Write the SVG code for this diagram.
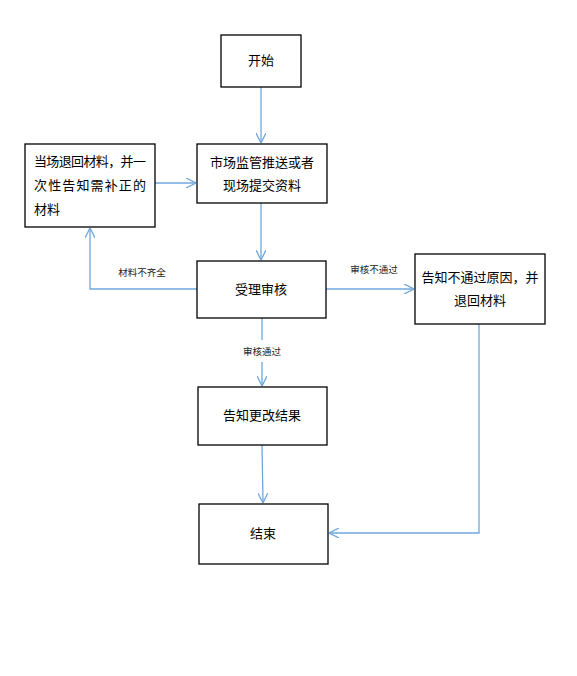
<svg xmlns="http://www.w3.org/2000/svg" width="577" height="676" viewBox="0 0 577 676">
<defs>
<style>
.box{fill:#fff;stroke:#000;stroke-width:1.3}
.t{font-family:"Noto Sans CJK SC","Liberation Sans",sans-serif;font-size:13px;fill:#000}
.m{text-anchor:middle}
.lbl{font-family:"Noto Sans CJK SC","Liberation Sans",sans-serif;font-size:9.5px;fill:#222;text-anchor:middle}
.c{fill:none;stroke:#6FA8DC;stroke-width:1.3}
</style>
<marker id="ah" viewBox="0 0 10 10" refX="10" refY="5" markerWidth="10" markerHeight="10" markerUnits="userSpaceOnUse" orient="auto">
<path d="M0,0 L10,5 L0,10" fill="none" stroke="#6FA8DC" stroke-width="1.3"/>
</marker>
</defs>
<rect width="577" height="676" fill="#fff"/>
<g id="connectors">
<path class="c" d="M261,87 V143" marker-end="url(#ah)"/>
<path class="c" d="M155,183 H196" marker-end="url(#ah)"/>
<path class="c" d="M261,203 V260" marker-end="url(#ah)"/>
<path class="c" d="M197,289 H90 V228" marker-end="url(#ah)"/>
<path class="c" d="M326,289 H414" marker-end="url(#ah)"/>
<path class="c" d="M262,318 V340"/>
<path class="c" d="M262,362 V386" marker-end="url(#ah)"/>
<path class="c" d="M262,445 L263,503" marker-end="url(#ah)"/>
<path class="c" d="M479,324 V533 H329" marker-end="url(#ah)"/>
<text class="lbl" x="142" y="276">材料不齐全</text>
<text class="lbl" x="374" y="273">审核不通过</text>
<text class="lbl" x="262" y="355">审核通过</text>
</g>
<g id="start">
<rect class="box" x="221" y="35" width="80" height="52"/>
<text class="t m" x="261" y="65">开始</text>
</g>
<g id="submit">
<rect class="box" x="197" y="144" width="130" height="59"/>
<text class="t m" x="262" y="167">市场监管推送或者</text>
<text class="t m" x="262" y="190">现场提交资料</text>
</g>
<g id="return">
<rect class="box" x="25" y="144" width="130" height="83"/>
<text class="t" x="34" y="166" textLength="112" lengthAdjust="spacing">当场退回材料，并一</text>
<text class="t" x="34" y="190" textLength="112" lengthAdjust="spacing">次性告知需补正的</text>
<text class="t" x="34" y="214">材料</text>
</g>
<g id="review">
<rect class="box" x="197" y="261" width="129" height="57"/>
<text class="t m" x="261" y="294">受理审核</text>
</g>
<g id="reject">
<rect class="box" x="415" y="254" width="130" height="70"/>
<text class="t m" x="480" y="282">告知不通过原因，并</text>
<text class="t m" x="480" y="305">退回材料</text>
</g>
<g id="notify">
<rect class="box" x="198" y="387" width="129" height="58"/>
<text class="t m" x="262" y="420">告知更改结果</text>
</g>
<g id="end">
<rect class="box" x="199" y="504" width="129" height="60"/>
<text class="t m" x="263" y="538">结束</text>
</g>
</svg>
